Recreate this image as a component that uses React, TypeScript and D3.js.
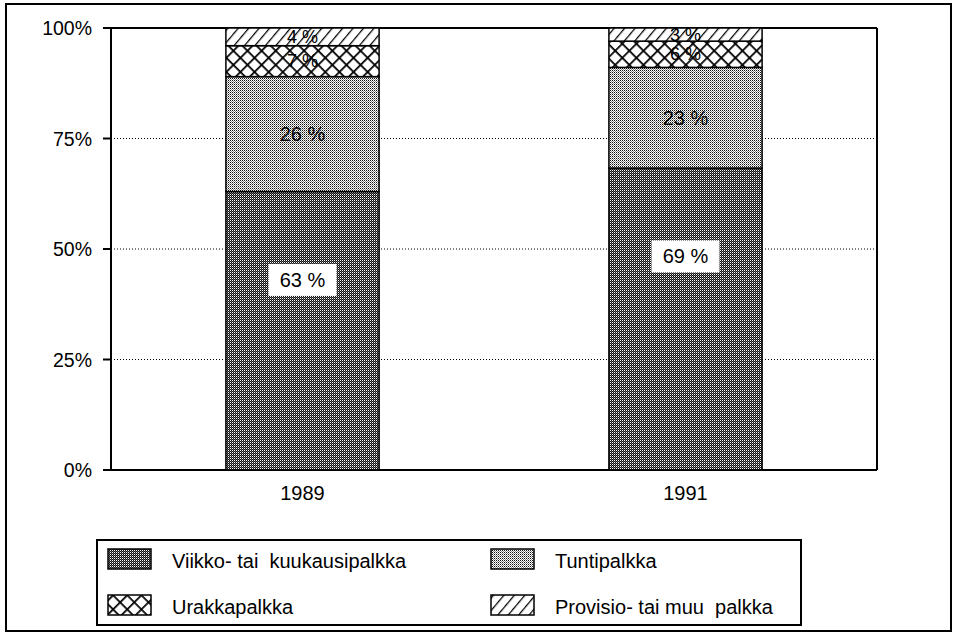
import React from "react";
import * as d3 from "d3";

// data
const years = ["1989", "1991"];
const seriesKeys = ["viikko", "tunti", "urakka", "provisio"];
const seriesNames = [
  "Viikko- tai  kuukausipalkka",
  "Tuntipalkka",
  "Urakkapalkka",
  "Provisio- tai muu  palkka",
];
const viikko = [63, 69];
const tunti = [26, 23];
const urakka = [7, 6];
const provisio = [4, 3];
const yTicks = [0, 0.25, 0.5, 0.75, 1];

const W = 958;
const H = 635;
const margin = { top: 28, right: 81, bottom: 165, left: 111 };
const FONT = "'Liberation Sans', Arial, Helvetica, sans-serif";

const patternIds = ["pViikko", "pTunti", "pUrakka", "pProvisio"];

export default function App() {
  const rows = years.map((yr, i) => ({
    year: yr,
    viikko: viikko[i],
    tunti: tunti[i],
    urakka: urakka[i],
    provisio: provisio[i],
  }));

  const stacked = d3
    .stack()
    .keys(seriesKeys)
    .offset(d3.stackOffsetExpand)(rows as any);

  const x = d3
    .scaleBand()
    .domain(years)
    .range([margin.left, W - margin.right])
    .paddingInner(0.6)
    .paddingOuter(0.3);

  const y = d3
    .scaleLinear()
    .domain([0, 1])
    .range([H - margin.bottom, margin.top]);

  const x0 = margin.left;
  const x1 = W - margin.right;
  const yBottom = y(0);
  const yTop = y(1);

  // legend layout
  const legend = { x: 97, y: 540, w: 704, h: 85 };
  const legendCols = [108, 491];
  const legendRows = [559, 605];

  return (
    <svg
      width={W}
      height={H}
      style={{ position: "absolute", left: 0, top: 0, background: "#fff" }}
      fontFamily={FONT}
    >
      <defs>
        <pattern id="pViikko" width={2} height={2} patternUnits="userSpaceOnUse">
          <rect width={2} height={2} fill="#111" />
          <rect width={1} height={1} fill="#fff" />
          <rect x={1} y={1} width={1} height={1} fill="#666" />
        </pattern>
        <pattern id="pTunti" width={2} height={2} patternUnits="userSpaceOnUse">
          <rect width={2} height={2} fill="#fff" />
          <rect width={1} height={1} fill="#111" />
          <rect x={1} y={1} width={1} height={1} fill="#888" />
        </pattern>
        <pattern
          id="pUrakka"
          width={10}
          height={10}
          patternUnits="userSpaceOnUse"
          patternTransform="rotate(45)"
        >
          <rect width={10} height={10} fill="#fff" />
          <line x1={0} y1={0} x2={10} y2={0} stroke="#000" strokeWidth={3.5} />
          <line x1={0} y1={0} x2={0} y2={10} stroke="#000" strokeWidth={3.5} />
        </pattern>
        <pattern
          id="pProvisio"
          width={8}
          height={8}
          patternUnits="userSpaceOnUse"
          patternTransform="rotate(40)"
        >
          <rect width={8} height={8} fill="#fff" />
          <line x1={0} y1={0} x2={0} y2={8} stroke="#000" strokeWidth={2.5} />
        </pattern>
      </defs>

      {/* outer frame */}
      <rect x={6} y={4} width={945} height={627} fill="none" stroke="#000" strokeWidth={2} />

      {/* dotted gridlines */}
      {yTicks
        .filter((t) => t > 0 && t < 1)
        .map((t) => (
          <line
            key={"g" + t}
            x1={x0}
            x2={x1}
            y1={y(t)}
            y2={y(t)}
            stroke="#000"
            strokeWidth={1}
            strokeDasharray="1,2"
          />
        ))}

      {/* plot box */}
      <line x1={x0} x2={x1} y1={yTop} y2={yTop} stroke="#000" strokeWidth={2} />
      <line x1={x1} x2={x1} y1={yTop} y2={yBottom} stroke="#000" strokeWidth={2} />
      <line x1={x0} x2={x1} y1={yBottom} y2={yBottom} stroke="#000" strokeWidth={2} />
      <line x1={x0} x2={x0} y1={yTop} y2={yBottom} stroke="#000" strokeWidth={2} />

      {/* bars */}
      {stacked.map((s, si) =>
        s.map((d: any, i) => (
          <rect
            key={si + "-" + i}
            x={x(years[i])}
            y={y(d[1])}
            width={x.bandwidth()}
            height={y(d[0]) - y(d[1])}
            fill={`url(#${patternIds[si]})`}
            stroke="#000"
            strokeWidth={1.5}
          />
        ))
      )}

      {/* value labels */}
      {stacked.map((s, si) =>
        s.map((d: any, i) => {
          const val = rows[i][seriesKeys[si]];
          const cx = x(years[i])! + x.bandwidth() / 2;
          if (si === 0) {
            const cy = y(d[1] - 0.2);
            return (
              <g key={"l" + si + i}>
                <rect x={cx - 34} y={cy - 16} width={68} height={32} fill="#fff" />
                <text
                  x={cx}
                  y={cy}
                  textAnchor="middle"
                  dominantBaseline="central"
                  fontSize={20}
                >
                  {val} %
                </text>
              </g>
            );
          }
          const cy = y((d[0] + d[1]) / 2);
          return (
            <text
              key={"l" + si + i}
              x={cx}
              y={cy}
              textAnchor="middle"
              dominantBaseline="central"
              fontSize={si === 1 ? 20 : 18}
            >
              {val} %
            </text>
          );
        })
      )}

      {/* y axis ticks and labels */}
      {yTicks.map((t) => (
        <g key={"t" + t}>
          <line x1={x0 - 8} x2={x0} y1={y(t)} y2={y(t)} stroke="#000" strokeWidth={2} />
          <text
            x={92}
            y={y(t)}
            textAnchor="end"
            dominantBaseline="central"
            fontSize={19.5}
          >
            {d3.format(".0%")(t)}
          </text>
        </g>
      ))}

      {/* x labels */}
      {years.map((yr) => (
        <text
          key={yr}
          x={x(yr)! + x.bandwidth() / 2}
          y={yBottom + 23}
          textAnchor="middle"
          dominantBaseline="central"
          fontSize={20}
        >
          {yr}
        </text>
      ))}

      {/* legend */}
      <rect
        x={legend.x}
        y={legend.y}
        width={legend.w}
        height={legend.h}
        fill="#fff"
        stroke="#000"
        strokeWidth={2}
      />
      {seriesNames.map((name, i) => {
        const col = i % 2 === 0 ? 0 : 1;
        const row = i < 2 ? 0 : 1;
        const lx = legendCols[col];
        const ly = legendRows[row];
        return (
          <g key={name}>
            <rect
              x={lx}
              y={ly - 10}
              width={43}
              height={20}
              fill={`url(#${patternIds[i]})`}
              stroke="#000"
              strokeWidth={1.5}
            />
            <text
              x={lx + 64}
              y={ly + 2}
              dominantBaseline="central"
              fontSize={20}
              style={{ whiteSpace: "pre" }}
            >
              {name}
            </text>
          </g>
        );
      })}
    </svg>
  );
}
